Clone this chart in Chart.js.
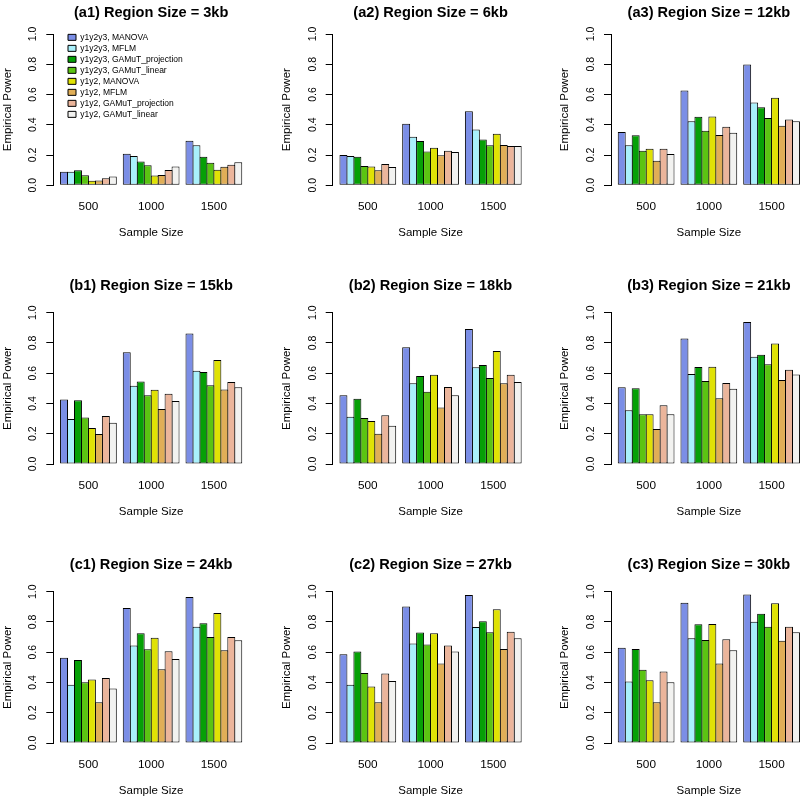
<!DOCTYPE html>
<html>
<head>
<meta charset="utf-8">
<title>Empirical power by region size</title>
<script src="https://cdn.jsdelivr.net/npm/chart.js@4/dist/chart.umd.min.js"></script>
<style>
  html, body { margin: 0; padding: 0; background: #fff; }
  #figure { position: relative; width: 800px; height: 799px; overflow: hidden; background: #fff; }
  #figure canvas { position: absolute; }
</style>
</head>
<body>
<div id="figure"></div>
<script>
// Sample sizes shown along the x axis of every panel.
SAMPLE_SIZES = [500, 1000, 1500];

// One bar per method inside each sample size group.
SERIES_LABELS = [
    'y1y2y3, MANOVA',
    'y1y2y3, MFLM',
    'y1y2y3, GAMuT_projection',
    'y1y2y3, GAMuT_linear',
    'y1y2, MANOVA',
    'y1y2, MFLM',
    'y1y2, GAMuT_projection',
    'y1y2, GAMuT_linear',
];

SERIES_COLORS = [
    '#7b8ee6', '#a9f0fb', '#06a006', '#5bc412',
    '#e0e205', '#e0ae57', '#ebb59b', '#f2f2f0',
];

PANEL_TITLES = [
    '(a1) Region Size = 3kb', '(a2) Region Size = 6kb', '(a3) Region Size = 12kb',
    '(b1) Region Size = 15kb', '(b2) Region Size = 18kb', '(b3) Region Size = 21kb',
    '(c1) Region Size = 24kb', '(c2) Region Size = 27kb', '(c3) Region Size = 30kb',
];

// Empirical power, one row per method, one column per sample size.
POWER_A1 = [
    [0.090, 0.209, 0.295], [0.090, 0.193, 0.264], [0.100, 0.158, 0.189], [0.067, 0.132, 0.149],
    [0.030, 0.064, 0.103], [0.032, 0.068, 0.123], [0.047, 0.101, 0.136], [0.058, 0.125, 0.152],
];
POWER_A2 = [
    [0.200, 0.407, 0.490], [0.193, 0.321, 0.369], [0.189, 0.292, 0.303], [0.127, 0.224, 0.264],
    [0.125, 0.248, 0.341], [0.099, 0.198, 0.266], [0.141, 0.229, 0.259], [0.121, 0.220, 0.259],
];
POWER_A3 = [
    [0.352, 0.626, 0.798], [0.264, 0.424, 0.547], [0.330, 0.453, 0.516], [0.229, 0.360, 0.444],
    [0.242, 0.455, 0.578], [0.163, 0.332, 0.393], [0.242, 0.387, 0.435], [0.207, 0.347, 0.424],
];
POWER_B1 = [
    [0.427, 0.738, 0.863], [0.297, 0.518, 0.617], [0.421, 0.546, 0.608], [0.308, 0.454, 0.520],
    [0.238, 0.491, 0.687], [0.198, 0.363, 0.493], [0.317, 0.465, 0.542], [0.273, 0.416, 0.507],
];
POWER_B2 = [
    [0.454, 0.771, 0.892], [0.313, 0.533, 0.639], [0.432, 0.581, 0.654], [0.304, 0.478, 0.568],
    [0.284, 0.590, 0.747], [0.200, 0.374, 0.533], [0.322, 0.509, 0.590], [0.253, 0.454, 0.542],
];
POWER_B3 = [
    [0.507, 0.830, 0.938], [0.355, 0.595, 0.709], [0.500, 0.641, 0.722], [0.328, 0.548, 0.659],
    [0.328, 0.643, 0.797], [0.231, 0.434, 0.555], [0.388, 0.535, 0.623], [0.328, 0.498, 0.592],
];
POWER_C1 = [
    [0.563, 0.892, 0.965], [0.385, 0.644, 0.769], [0.549, 0.725, 0.791], [0.402, 0.620, 0.701],
    [0.420, 0.695, 0.859], [0.270, 0.488, 0.613], [0.429, 0.607, 0.701], [0.360, 0.556, 0.679],
];
POWER_C2 = [
    [0.587, 0.903, 0.978], [0.385, 0.657, 0.767], [0.604, 0.730, 0.804], [0.462, 0.651, 0.732],
    [0.374, 0.725, 0.884], [0.270, 0.525, 0.622], [0.459, 0.644, 0.736], [0.409, 0.604, 0.692],
];
POWER_C3 = [
    [0.629, 0.927, 0.982], [0.407, 0.692, 0.802], [0.622, 0.785, 0.855], [0.484, 0.681, 0.769],
    [0.415, 0.787, 0.923], [0.270, 0.525, 0.675], [0.473, 0.686, 0.769], [0.402, 0.613, 0.732],
];

PANEL_DATA = [
    POWER_A1, POWER_A2, POWER_A3,
    POWER_B1, POWER_B2, POWER_B3,
    POWER_C1, POWER_C2, POWER_C3,
];

// Page layout of the 3x3 grid (pixels).  The y axis line of each column and the
// 1.0 tick of each row, measured off the original figure.
AXIS_X = [53.3, 332.7, 611];
AXIS_TOP = [34, 312.7, 591.7];
// Distance from the panel title to the top of the plot, per row.
TITLE_GAP = [21.2, 26.5, 26.9];
PLOT_WIDTH = 195.7;
PLOT_HEIGHT = 151.3;
X_AXIS_HEIGHT = 60;
CANVAS_WIDTH = 290;
CANVAS_HEIGHT = 262;
TITLE_FONT_SIZE = 14.6;
LABEL_FONT_SIZE = 11.5;

Chart.defaults.font.family = "'Liberation Sans', Arial, Helvetica, sans-serif";
Chart.defaults.color = '#000';

// The legend in panel a1 sits inside the plot, a little in from the y axis.
const legendOffset = {
    id: 'legendOffset',
    afterLayout: function(chart) {
        const legend = chart.legend;
        if (!legend || !legend.options.display) {
            return;
        }
        const w = legend.width;
        const h = legend.height;
        legend.left = chart.chartArea.left + 12.2;
        legend.top = chart.chartArea.top - 3.4;
        legend.right = legend.left + w;
        legend.bottom = legend.top + h;
    },
};

function makeDatasets(values) {
    return SERIES_LABELS.map(function(label, i) {
        return {
            label: label,
            data: SAMPLE_SIZES.map(function(size, j) {
                return {x: j + 1, y: values[i][j]};
            }),
            backgroundColor: SERIES_COLORS[i],
            borderColor: '#000',
            borderWidth: 1,
            borderSkipped: false,
            categoryPercentage: 8 / 9,
            barPercentage: 8 / 7,
        };
    });
}

function makePanel(figure, row, col) {
    const index = row * 3 + col;
    const left = Math.floor(AXIS_X[col] - 53);
    const top = Math.floor(AXIS_TOP[row] - 40);
    const yAxisWidth = AXIS_X[col] - left;
    const above = AXIS_TOP[row] - top;
    const titleLineHeight = TITLE_FONT_SIZE * 1.2;
    const labelLineHeight = LABEL_FONT_SIZE * 1.2;

    const canvas = document.createElement('canvas');
    canvas.width = CANVAS_WIDTH;
    canvas.height = CANVAS_HEIGHT;
    canvas.style.left = left + 'px';
    canvas.style.top = top + 'px';
    figure.appendChild(canvas);

    let legend = {display: false};
    if (index == 0) {
        legend = {
            display: true,
            position: 'chartArea',
            align: 'start',
            labels: {
                boxWidth: 8,
                boxHeight: 6,
                padding: 2.5,
                color: '#000',
                font: {size: 8.5},
            },
        };
    }

    new Chart(canvas, {
        type: 'bar',
        data: {datasets: makeDatasets(PANEL_DATA[index])},
        options: {
            responsive: false,
            animation: false,
            devicePixelRatio: 1,
            layout: {
                padding: {
                    left: 0,
                    top: above - TITLE_GAP[row] - titleLineHeight / 2,
                    right: CANVAS_WIDTH - yAxisWidth - PLOT_WIDTH,
                    bottom: CANVAS_HEIGHT - above - PLOT_HEIGHT - X_AXIS_HEIGHT,
                },
            },
            scales: {
                x: {
                    type: 'linear',
                    min: 0.44,
                    max: 3.56,
                    offset: false,
                    grid: {display: false, drawTicks: false},
                    border: {display: false},
                    afterBuildTicks: function(scale) {
                        scale.ticks = SAMPLE_SIZES.map(function(size, j) {
                            return {value: j + 1};
                        });
                    },
                    afterFit: function(scale) {
                        scale.height = X_AXIS_HEIGHT;
                    },
                    ticks: {
                        autoSkip: false,
                        maxRotation: 0,
                        padding: 14.6,
                        color: '#000',
                        font: {size: 11.8},
                        callback: function(value) {
                            return SAMPLE_SIZES[value - 1];
                        },
                    },
                    title: {
                        display: true,
                        text: 'Sample Size',
                        color: '#000',
                        font: {size: LABEL_FONT_SIZE},
                        padding: {top: 0, bottom: X_AXIS_HEIGHT - 48 - labelLineHeight / 2},
                    },
                },
                y: {
                    min: 0,
                    max: 1,
                    afterFit: function(scale) {
                        scale.width = yAxisWidth;
                    },
                    grid: {drawOnChartArea: false, drawTicks: true, tickLength: 7, color: '#000'},
                    border: {display: true, color: '#000', width: 1},
                    ticks: {
                        stepSize: 0.2,
                        minRotation: 90,
                        maxRotation: 90,
                        crossAlign: 'center',
                        padding: 5.7,
                        color: '#000',
                        font: {size: 10.5},
                        callback: function(value) {
                            return value.toFixed(1);
                        },
                    },
                    title: {
                        display: true,
                        text: 'Empirical Power',
                        color: '#000',
                        font: {size: LABEL_FONT_SIZE},
                        padding: {top: yAxisWidth - 45.8 - labelLineHeight / 2, bottom: 0},
                    },
                },
            },
            plugins: {
                title: {
                    display: true,
                    fullSize: false,
                    text: PANEL_TITLES[index],
                    color: '#000',
                    font: {size: TITLE_FONT_SIZE, weight: 'bold'},
                    padding: {top: 0, bottom: TITLE_GAP[row] - titleLineHeight / 2},
                },
                legend: legend,
                tooltip: {enabled: false},
            },
        },
        plugins: [legendOffset],
    });
}

const figure = document.getElementById('figure');
for (let row = 0; row < 3; row++) {
    for (let col = 0; col < 3; col++) {
        makePanel(figure, row, col);
    }
}
</script>
</body>
</html>
